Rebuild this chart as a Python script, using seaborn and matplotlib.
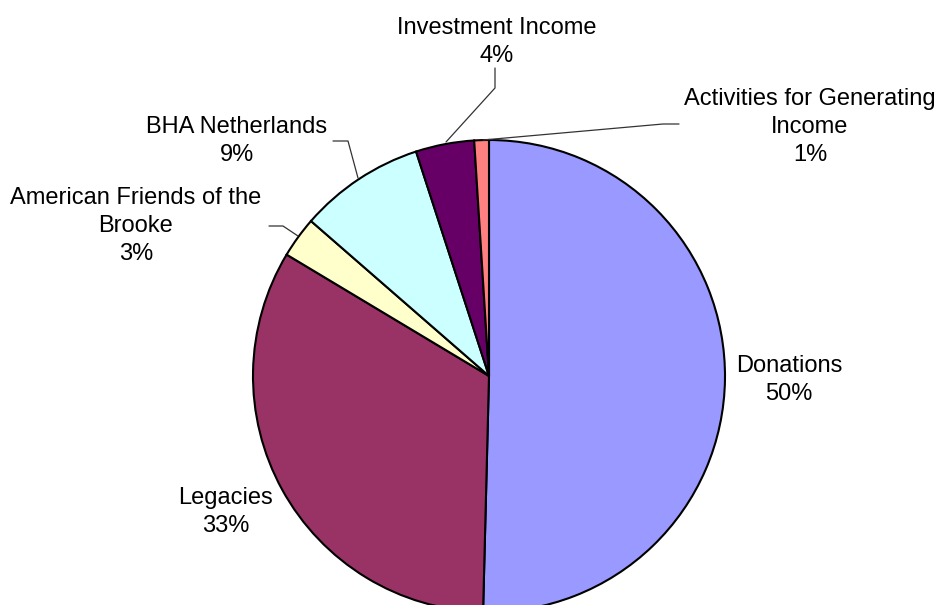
import matplotlib
matplotlib.use("Agg")
import matplotlib.pyplot as plt
import seaborn as sns

sns.set_theme(style="white")
plt.rcParams['font.family'] = ['Liberation Sans', 'DejaVu Sans']

categories = ["Donations", "Legacies", "American Friends of the\nBrooke",
              "BHA Netherlands", "Investment Income",
              "Activities for Generating\nIncome"]
values = [50.4, 33.2, 2.8, 8.6, 4.0, 1.0]
pct_labels = ["50%", "33%", "3%", "9%", "4%", "1%"]
colors = ["#9999FF", "#993366", "#FFFFCC", "#CCFFFF", "#660066", "#FF8080"]

W, H = 939, 605
fig = plt.figure(figsize=(W / 100, H / 100), dpi=100)
ax = fig.add_axes([0, 0, 1, 1])

def P(x, y):
    return (x, H - y)

ax.pie(values, colors=colors, startangle=90, counterclock=False,
       center=P(489, 376), radius=236,
       wedgeprops=dict(edgecolor="black", linewidth=1.5))
ax.set_xlim(0, W)
ax.set_ylim(0, H)
ax.set_aspect("equal")
ax.axis("off")

label_pos = [(789, 380), (226, 512), (136, 226), (237, 141), (497, 42), (810, 127)]
for cat, pct, (x, y) in zip(categories, pct_labels, label_pos):
    ax.text(*P(x, y), f"{cat}\n{pct}", ha="center", va="center",
            fontsize=17, color="black", linespacing=1.38)

leaders = [
    [(446, 142), (495, 88), (495, 68)],
    [(483, 140), (663, 124), (679, 124)],
    [(358, 178), (348, 141), (333, 141)],
    [(298, 236), (283, 226), (269, 226)],
]
for pts in leaders:
    xs = [P(*p)[0] for p in pts]
    ys = [P(*p)[1] for p in pts]
    ax.plot(xs, ys, color="#333333", linewidth=0.9)

fig.savefig("out.png", dpi=100)
